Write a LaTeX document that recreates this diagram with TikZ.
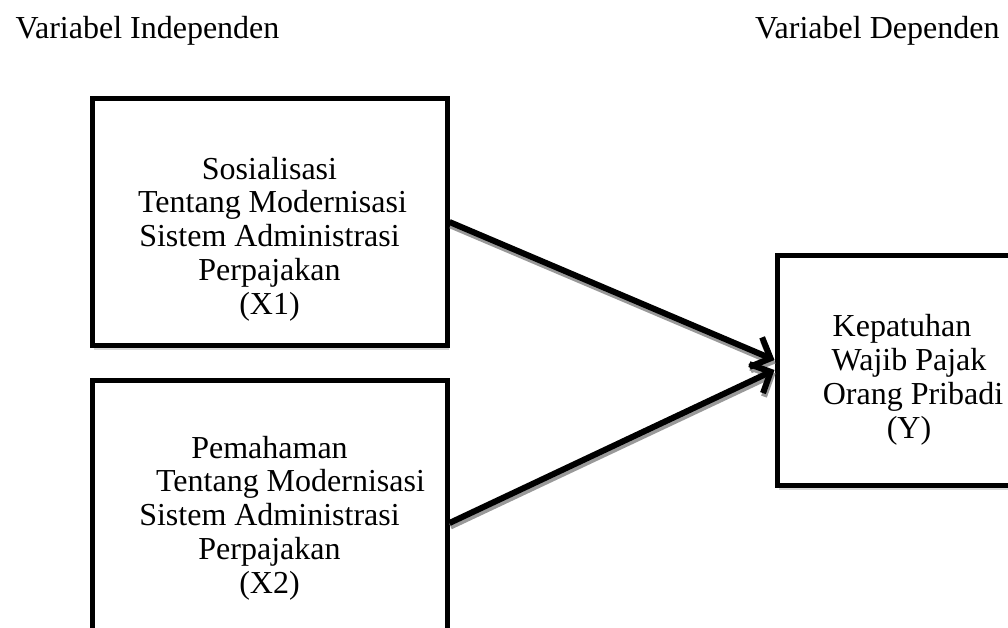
\documentclass[tikz,border=0pt]{standalone}
\usepackage{fontspec}
\setmainfont{Liberation Serif}
\usetikzlibrary{arrows.meta,shadows}

\begin{document}
\begin{tikzpicture}[
  x=1pt, y=-1pt,
  every node/.style={font=\fontsize{32}{33.8}\selectfont},
  varbox/.style={draw, line width=5pt, inner sep=0pt, fill=white,
    drop shadow={shadow xshift=2pt, shadow yshift=-4.5pt, fill=black!30}},
  vartext/.style={align=center, inner sep=0pt},
  link/.style={line width=6pt, -{Straight Barb[length=16pt,width=32pt,line width=6pt]}},
  linkshade/.style={link, draw=black!40}
]
  \useasboundingbox (0,0) rectangle (1008,628);
  \clip (0,0) rectangle (1008,628);

  % judul kolom
  \node[anchor=base west] (indep) at (12,39) {Variabel Independen};
  \node[anchor=base east] (dep) at (1003,39) {Variabel Dependen};

  % kotak variabel
  \node[varbox, minimum width=355pt, minimum height=246pt] (x1) at (269.5,222) {};
  \node[varbox, minimum width=355pt, minimum height=286pt] (x2) at (269.5,523) {};
  \node[varbox, minimum width=264pt, minimum height=230pt] (y) at (909,370) {};

  \node[vartext] (x1txt) at (269.5,239) {Sosialisasi\\ \hspace*{6pt}Tentang Modernisasi\\
    Sistem Administrasi\hspace*{16pt}\\ Perpajakan\hspace*{22pt}\\ (X1)};
  \node[vartext] (x2txt) at (269.5,518) {Pemahaman\\ \hspace*{42pt}Tentang Modernisasi\\
    Sistem Administrasi\hspace*{20pt}\\ Perpajakan\hspace*{22pt}\\ (X2)};
  \node[vartext] (ytxt) at (909,380) {Kepatuhan\hspace*{14pt}\\ Wajib Pajak\\
    \hspace*{8pt}Orang Pribadi\\ (Y)};

  % panah
  \draw[linkshade] ([shift={(1pt,-3.5pt)}]x1.east) -- ([shift={(1pt,6.5pt)}]y.west);
  \draw[linkshade] ([shift={(1pt,-3.5pt)}]x2.east) -- ([shift={(1pt,-3.5pt)}]y.west);
  \draw[link] (x1.east) -- ([yshift=10pt]y.west);
  \draw[link] (x2.east) -- (y.west);
\end{tikzpicture}
\end{document}
